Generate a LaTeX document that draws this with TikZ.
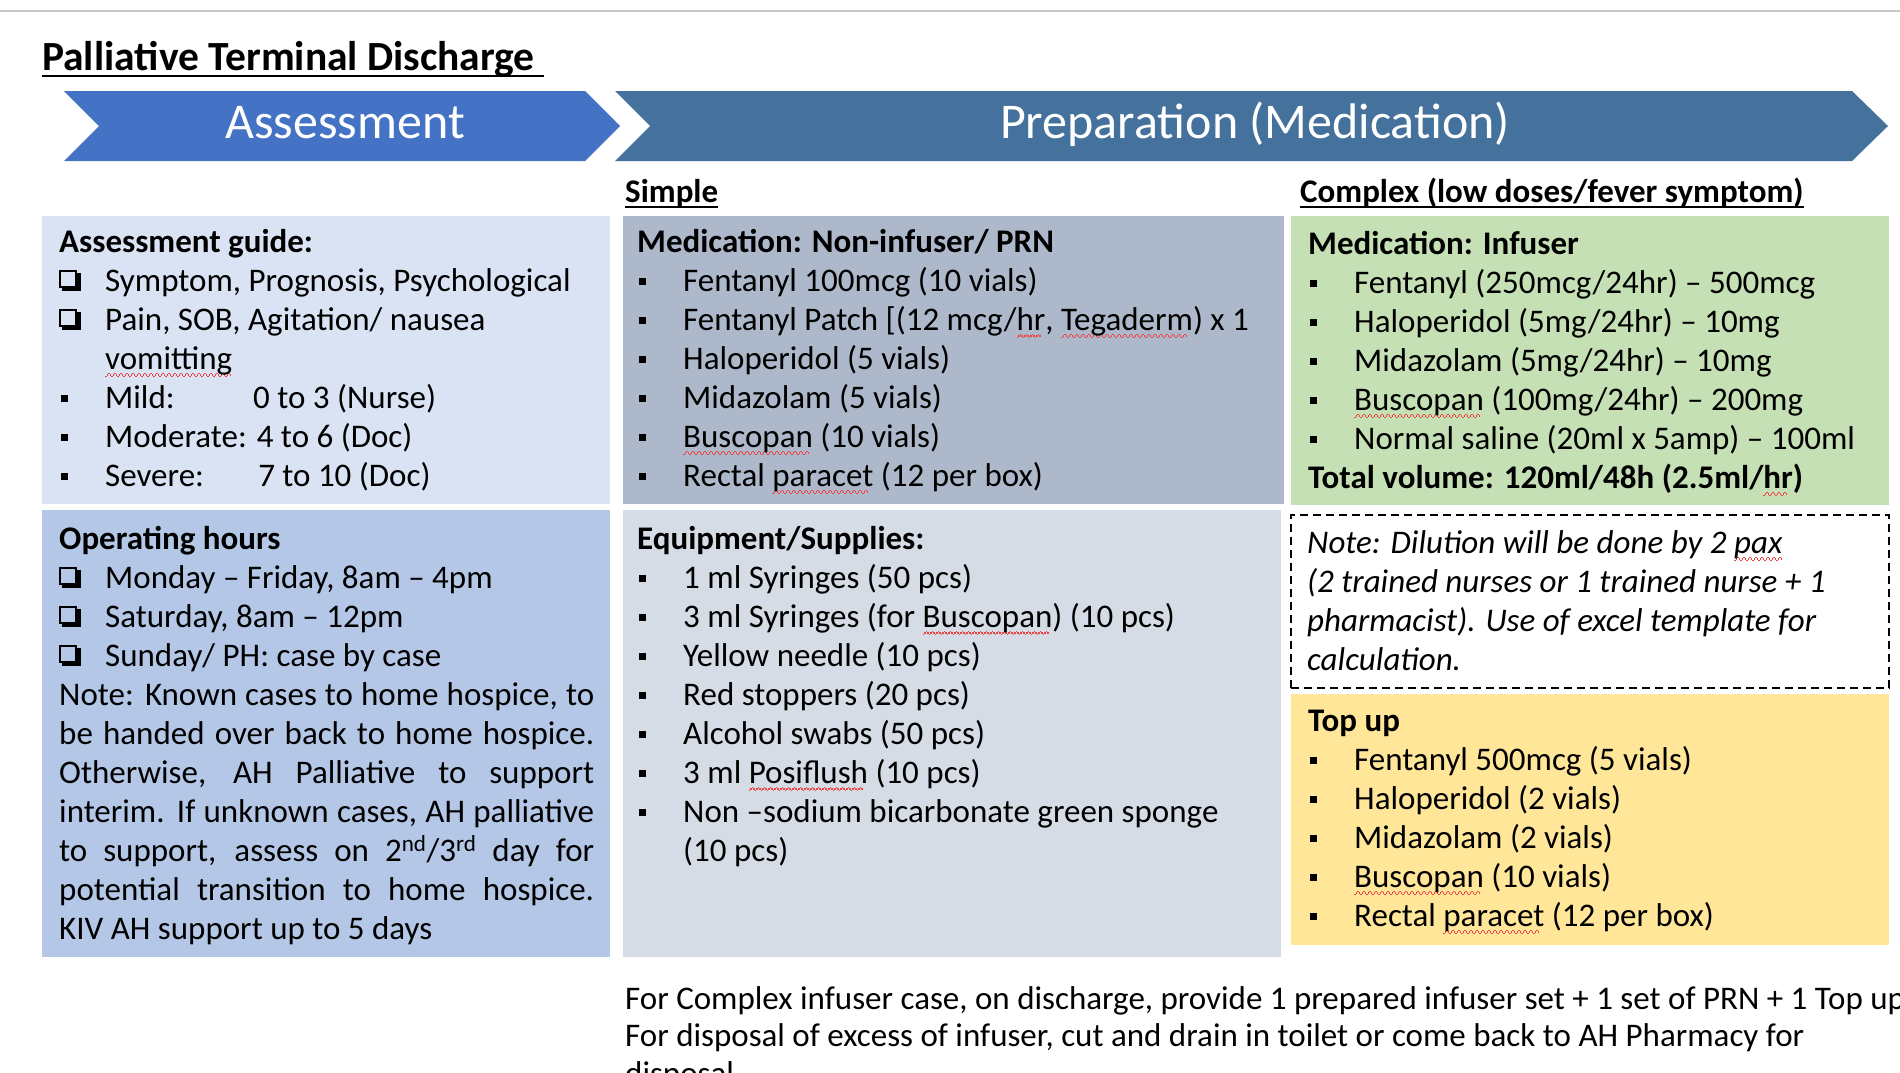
\documentclass[tikz,border=0pt]{standalone}
\usepackage{fontspec}
\setmainfont{Carlito}
\usetikzlibrary{positioning,calc}
\definecolor{asmColor}{HTML}{4472C4}
\definecolor{prepColor}{HTML}{44729D}
\definecolor{guideColor}{HTML}{DAE3F3}
\definecolor{prnColor}{HTML}{ADB9CA}
\definecolor{infColor}{HTML}{C5E0B4}
\definecolor{hoursColor}{HTML}{B4C7E7}
\definecolor{equipColor}{HTML}{D6DCE5}
\definecolor{topColor}{HTML}{FFE699}
\definecolor{ruleColor}{HTML}{C8C8C8}
\definecolor{sqColor}{HTML}{F04040}
\newcommand{\sq}[1]{\setbox0\hbox{#1}\rlap{\color{sqColor}\leaders\hbox{\rule[-8pt]{1.5pt}{1.5pt}\rule[-6.7pt]{1.5pt}{1.5pt}\rule[-5.4pt]{1.5pt}{1.5pt}\rule[-6.7pt]{1.5pt}{1.5pt}}\hskip\wd0}\box0\relax}
\newcommand{\bul}{\makebox[46pt][l]{\hspace{1.5pt}\rule[6pt]{7.5pt}{7.5pt}}}
% shadowed check box
\newcommand{\chkbox}{\rlap{\rule[3pt]{18pt}{2pt}}\rlap{\rule[19pt]{18pt}{2pt}}\rlap{\rule[3pt]{2pt}{18pt}}\rlap{\hspace*{16pt}\rule[3pt]{2pt}{18pt}}\rlap{\hspace*{18pt}\rule{3.5pt}{18pt}}\rlap{\hspace*{3pt}\rule{18pt}{3.5pt}}}
\newcommand{\chk}{\makebox[46pt][l]{\chkbox}}
\newcommand{\undl}[2][6pt]{\setbox0\hbox{#2}\rlap{\rule[-#1]{\wd0}{2pt}}\box0\relax}
\tikzset{
	box/.style={anchor=north west, inner sep=0, outer sep=0},
	txt/.style={anchor=base west, inner sep=0, font=\fontsize{33}{39}\selectfont},
}

\begin{document}
\begin{tikzpicture}[x=1pt,y=-1pt,
		chev/.style={anchor=base, inner sep=0, text=white, font=\fontsize{50}{60}\selectfont},
		head/.style={anchor=base west, inner sep=0, font=\bfseries\fontsize{33}{39}\selectfont}]
	\useasboundingbox (0,0) rectangle (1900,1072);
	\fill[white] (0,0) rectangle (1900,1072);
	\draw[ruleColor, line width=2pt] (0,11) -- (1900,11);
	\node[anchor=base west, inner sep=0, font=\bfseries\fontsize{41.5}{48}\selectfont] (title) at (42,70) {\undl[7pt]{Palliative Terminal Discharge\ }};
	
	% chevrons
	\fill[asmColor] (64,91) -- (585,91) -- (620,126) -- (585,161) -- (64,161) -- (99,126) -- cycle;
	\fill[prepColor] (615,91) -- (1852,91) -- (1888,126) -- (1852,161) -- (615,161) -- (650,126) -- cycle;
	\node[chev] (asm) at (345,138) {Assessment};
	\node[chev] (prep) at (1255,138) {Preparation (Medication)};
	
	\node[head] (simple) at (625,202) {\undl{Simple}};
	\node[head] (complex) at (1300,202) {\undl{Complex (low doses/fever symptom)}};
	
	% boxes
	\node[box, fill=guideColor, minimum width=568pt, minimum height=288pt] (guide) at (42,216) {};
	\node[box, fill=prnColor, minimum width=661pt, minimum height=288pt] (prn) at (623,216) {};
	\node[box, fill=infColor, minimum width=598pt, minimum height=289pt] (inf) at (1291,216) {};
	\node[box, fill=hoursColor, minimum width=568pt, minimum height=447pt] (hours) at (42,510) {};
	\node[box, fill=equipColor, minimum width=658pt, minimum height=447pt] (equip) at (623,510) {};
	\node[box, draw, dash pattern=on 8pt off 5pt, line width=1.8pt, minimum width=598pt, minimum height=173pt] (note) at (1291,515) {};
	\node[box, fill=topColor, minimum width=598pt, minimum height=251pt] (topup) at (1291,694) {};
	
	\node[txt] (guideTxt) at (59,252) {\begin{tabular}[t]{@{}l@{}}
			\textbf{Assessment guide:}\\
			\chk Symptom, Prognosis, Psychological\\
			\chk Pain, SOB, Agitation/ nausea\\
			\hspace*{46pt}\sq{vomitting}\\
			\bul\makebox[148pt][l]{Mild:}0 to 3 (Nurse)\\
			\bul Moderate: 4 to 6 (Doc)\\
			\bul\makebox[153pt][l]{Severe:}7 to 10 (Doc)
		\end{tabular}};
	\node[txt] (prnTxt) at (637,252) {\begin{tabular}[t]{@{}l@{}}
			\textbf{Medication: Non-infuser/ PRN}\\
			\bul Fentanyl 100mcg (10 vials)\\
			\bul Fentanyl Patch [(12 mcg/\sq{hr}, \sq{Tegaderm}) x 1\\
			\bul Haloperidol (5 vials)\\
			\bul Midazolam (5 vials)\\
			\bul \sq{Buscopan} (10 vials)\\
			\bul Rectal \sq{paracet} (12 per box)
		\end{tabular}};
	\node[txt] (infTxt) at (1308,254) {\begin{tabular}[t]{@{}l@{}}
			\textbf{Medication: Infuser}\\
			\bul Fentanyl (250mcg/24hr) – 500mcg\\
			\bul Haloperidol (5mg/24hr) – 10mg\\
			\bul Midazolam (5mg/24hr) – 10mg\\
			\bul \sq{Buscopan} (100mg/24hr) – 200mg\\
			\bul Normal saline (20ml x 5amp) – 100ml\\
			\textbf{Total volume: 120ml/48h (2.5ml/\sq{hr})}
		\end{tabular}};
	\node[txt] (hoursTxt) at (59,549) {\begin{tabular}[t]{@{}l@{}}
			\textbf{Operating hours}\\
			\chk Monday – Friday, 8am – 4pm\\
			\chk Saturday, 8am – 12pm\\
			\chk Sunday/ PH: case by case\\
			\makebox[535pt][s]{Note: Known cases to home hospice, to}\\
			\makebox[535pt][s]{be handed over back to home hospice.}\\
			\makebox[535pt][s]{Otherwise, AH Palliative to support}\\
			\makebox[535pt][s]{interim. If unknown cases, AH palliative}\\
			\makebox[535pt][s]{to support, assess on 2\textsuperscript{nd}/3\textsuperscript{rd} day for}\\
			\makebox[535pt][s]{potential transition to home hospice.}\\
			KIV AH support up to 5 days
		\end{tabular}};
	\node[txt] (equipTxt) at (637,549) {\begin{tabular}[t]{@{}l@{}}
			\textbf{Equipment/Supplies:}\\
			\bul 1 ml Syringes (50 pcs)\\
			\bul 3 ml Syringes (for \sq{Buscopan}) (10 pcs)\\
			\bul Yellow needle (10 pcs)\\
			\bul Red stoppers (20 pcs)\\
			\bul Alcohol swabs (50 pcs)\\
			\bul 3 ml \sq{Posiflush} (10 pcs)\\
			\bul Non –sodium bicarbonate green sponge\\
			\hspace*{46pt}(10 pcs)
		\end{tabular}};
	\node[txt, font=\itshape\fontsize{33}{39}\selectfont] (noteTxt) at (1307,553) {\begin{tabular}[t]{@{}l@{}}
			Note: Dilution will be done by 2 \sq{pax}\\
			(2 trained nurses or 1 trained nurse + 1\\
			pharmacist). Use of excel template for\\
			calculation.
		\end{tabular}};
	\node[txt] (topTxt) at (1308,731) {\begin{tabular}[t]{@{}l@{}}
			\textbf{Top up}\\
			\bul Fentanyl 500mcg (5 vials)\\
			\bul Haloperidol (2 vials)\\
			\bul Midazolam (2 vials)\\
			\bul \sq{Buscopan} (10 vials)\\
			\bul Rectal \sq{paracet} (12 per box)
		\end{tabular}};
	\node[txt, font=\fontsize{33}{37.6}\selectfont] (foot) at (625,1009) {\begin{tabular}[t]{@{}l@{}}
			For Complex infuser case, on discharge, provide 1 prepared infuser set + 1 set of PRN + 1 Top up\\
			For disposal of excess of infuser, cut and drain in toilet or come back to AH Pharmacy for\\
			disposal.
		\end{tabular}};
\end{tikzpicture}
\end{document}
